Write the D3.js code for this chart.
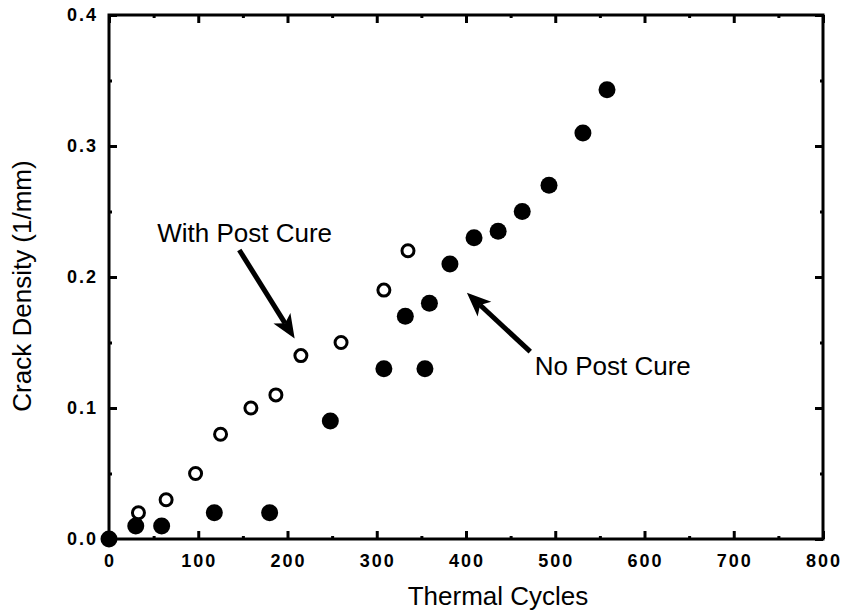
<!DOCTYPE html>
<html>
<head>
<meta charset="utf-8">
<script src="https://cdn.jsdelivr.net/npm/d3@7"></script>
<style>
  body { margin: 0; background: #fff; }
  text { font-family: "Liberation Sans", Arial, Helvetica, sans-serif; fill: #000; }
  .tick-label { font-size: 18px; font-weight: bold; letter-spacing: 2px; }
  .title { font-size: 26px; }
  .note { font-size: 26px; }
</style>
</head>
<body>
<div id="container"></div>
<script>
// No Post Cure (filled)
let noCureX = [0, 30, 59, 118, 180, 248, 308, 354, 332, 359, 382, 409, 436, 463, 493, 531, 558];
let noCureY = [0, 0.01, 0.01, 0.02, 0.02, 0.09, 0.13, 0.13, 0.17, 0.18, 0.21, 0.23, 0.235, 0.25, 0.27, 0.31, 0.343];
// With Post Cure (open)
let cureX = [33, 64, 97, 125, 159, 187, 215, 260, 308, 335];
let cureY = [0.02, 0.03, 0.05, 0.08, 0.10, 0.11, 0.14, 0.15, 0.19, 0.22];

let xTicks = [0, 100, 200, 300, 400, 500, 600, 700, 800];
let yTicks = [0.0, 0.1, 0.2, 0.3, 0.4];
let xMinor = [50, 150, 250, 350, 450, 550, 650, 750];
let yMinor = [0.05, 0.15, 0.25, 0.35];

// annotations in data units
let notes = [
  { text: 'With Post Cure', x: 54, y: 0.227, from: [146, 0.2206], to: [208, 0.153] },
  { text: 'No Post Cure', x: 477, y: 0.125, from: [472, 0.143], to: [401, 0.188] }
];

let width = 845, height = 611;
let plotLeft = 109, plotRight = 823, plotTop = 15, plotBottom = 539;

let svg = d3.select('#container').append('svg')
  .attr('width', width).attr('height', height);

let xScale = d3.scaleLinear().domain([0, 800]).range([plotLeft, plotRight]);
let yScale = d3.scaleLinear().domain([0, 0.4]).range([plotBottom, plotTop]);

let majorLen = 8, minorLen = 3;

// axes: ticks pointing inward on all four sides
function frameAxis(axis, transform, ticks, len) {
  let g = svg.append('g').attr('transform', transform)
    .call(axis.tickValues(ticks).tickSize(len).tickFormat(''));
  g.select('.domain').remove();
  g.selectAll('.tick line').attr('stroke', '#000').attr('stroke-width', 3);
  return g;
}
frameAxis(d3.axisTop(xScale), 'translate(0,' + plotBottom + ')', xTicks, majorLen);
frameAxis(d3.axisTop(xScale), 'translate(0,' + plotBottom + ')', xMinor, minorLen);
frameAxis(d3.axisBottom(xScale), 'translate(0,' + plotTop + ')', xTicks, majorLen);
frameAxis(d3.axisBottom(xScale), 'translate(0,' + plotTop + ')', xMinor, minorLen);
frameAxis(d3.axisRight(yScale), 'translate(' + plotLeft + ',0)', yTicks, majorLen);
frameAxis(d3.axisRight(yScale), 'translate(' + plotLeft + ',0)', yMinor, minorLen);
frameAxis(d3.axisLeft(yScale), 'translate(' + plotRight + ',0)', yTicks, majorLen);
frameAxis(d3.axisLeft(yScale), 'translate(' + plotRight + ',0)', yMinor, minorLen);

svg.append('rect')
  .attr('x', plotLeft).attr('y', plotTop)
  .attr('width', plotRight - plotLeft).attr('height', plotBottom - plotTop)
  .attr('fill', 'none').attr('stroke', '#000').attr('stroke-width', 3);

// tick labels (dx offsets the trailing letter-spacing)
svg.selectAll('.xlab').data(xTicks).enter().append('text')
  .attr('class', 'tick-label')
  .attr('x', d => xScale(d) + 1).attr('y', plotBottom + 28)
  .attr('text-anchor', 'middle')
  .text(d => d);

svg.selectAll('.ylab').data(yTicks).enter().append('text')
  .attr('class', 'tick-label')
  .attr('x', plotLeft - 11).attr('y', d => yScale(d) + 6)
  .attr('text-anchor', 'end')
  .text(d => d.toFixed(1));

// axis titles
svg.append('text').attr('class', 'title')
  .attr('x', 498).attr('y', 605)
  .attr('text-anchor', 'middle').text('Thermal Cycles');

svg.append('text').attr('class', 'title')
  .attr('transform', 'translate(31,286) rotate(-90)')
  .attr('text-anchor', 'middle').text('Crack Density (1/mm)');

// points
svg.selectAll('.filled').data(noCureX).enter().append('circle')
  .attr('cx', d => xScale(d)).attr('cy', (d, i) => yScale(noCureY[i]))
  .attr('r', 8.5).attr('fill', '#000');

svg.selectAll('.open').data(cureX).enter().append('circle')
  .attr('cx', d => xScale(d)).attr('cy', (d, i) => yScale(cureY[i]))
  .attr('r', 6).attr('fill', '#fff').attr('stroke', '#000').attr('stroke-width', 3);

// annotations
notes.forEach(n => {
  svg.append('text').attr('class', 'note')
    .attr('x', xScale(n.x)).attr('y', yScale(n.y)).text(n.text);

  let x0 = xScale(n.from[0]), y0 = yScale(n.from[1]);
  let x1 = xScale(n.to[0]), y1 = yScale(n.to[1]);
  let ang = Math.atan2(y1 - y0, x1 - x0);
  let headLen = 24, headW = 10;
  let bx = x1 - headLen * Math.cos(ang), by = y1 - headLen * Math.sin(ang);
  svg.append('line')
    .attr('x1', x0).attr('y1', y0).attr('x2', bx + 6 * Math.cos(ang)).attr('y2', by + 6 * Math.sin(ang))
    .attr('stroke', '#000').attr('stroke-width', 5);
  let px = -Math.sin(ang) * headW, py = Math.cos(ang) * headW;
  svg.append('path')
    .attr('d', 'M' + x1 + ',' + y1 + 'L' + (bx + px) + ',' + (by + py) +
      'L' + (bx + 6 * Math.cos(ang)) + ',' + (by + 6 * Math.sin(ang)) +
      'L' + (bx - px) + ',' + (by - py) + 'Z')
    .attr('fill', '#000');
});
</script>
</body>
</html>
